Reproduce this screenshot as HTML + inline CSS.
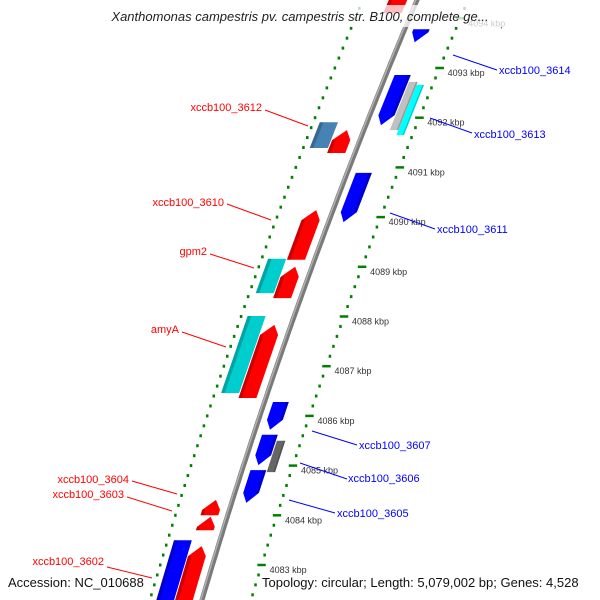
<!DOCTYPE html>
<html><head><meta charset="utf-8"><style>
body{margin:0;background:#fff}
svg{display:block;font-family:"Liberation Sans","DejaVu Sans",sans-serif}
</style></head><body>
<svg id="map" width="600" height="600" viewBox="0 0 600 600" xmlns="http://www.w3.org/2000/svg">
<g id="rings"></g>
<g id="backbone"></g>
<g id="features"></g>
<g id="labels"></g>
<rect x="60" y="5" width="480" height="22" fill="#fff" fill-opacity="0.75"/>
<text x="300" y="21" text-anchor="middle" font-size="13" font-style="italic" fill="#222">Xanthomonas campestris pv. campestris str. B100, complete ge...</text>
<text x="8" y="587" font-size="13" fill="#111">Accession: NC_010688</text>
<text x="262" y="587" font-size="13" fill="#111">Topology: circular; Length: 5,079,002 bp; Genes: 4,528</text>
</svg>
<script>
// data arrays
const featStart = [4094.1,4093.52,4091.85,4091.75,4091.65,4091.39,4091.29,4089.9,4089.14,4088.47,4088.37,4086.46,4086.36,4085.72,4085.01,4084.87,4084.25,4084.0,4083.7,4081.5,4081.5];
const featEnd   = [4095.0,4093.78,4092.86,4092.72,4092.66,4091.91,4091.75,4090.89,4090.14,4089.16,4089.0,4088.01,4087.83,4086.28,4085.62,4085.5,4084.91,4084.31,4083.97,4083.5,4083.38];
const featStrand= [1,-1,-1,-2,-3,2,1,-1,1,2,1,2,1,-1,-1,-2,-1,1,1,2,1];
const featColor = ['#ff0000','#0000ff','#0000ff','#c0c0c0','#00ffff','#4682b4','#ff0000','#0000ff','#ff0000','#00cdcd','#ff0000','#00cdcd','#ff0000','#0000ff','#0000ff','#666666','#0000ff','#ff0000','#ff0000','#0000ff','#ff0000'];
const featArrow = [1,1,1,0,0,0,1,1,1,0,1,0,1,1,1,0,1,1,1,0,1];
const tickKbp = [4094,4093,4092,4091,4090,4089,4088,4087,4086,4085,4084,4083];
const labelText = ['xccb100_3612','xccb100_3610','gpm2','amyA','xccb100_3604','xccb100_3603','xccb100_3602','xccb100_3614','xccb100_3613','xccb100_3611','xccb100_3607','xccb100_3606','xccb100_3605'];
const labelX = [262,224,207,179,129,124,104,499,474,437,359,348,337];
const labelY = [111,206,255,333,483,498,565,74,138,233,449,482,517];
const labelLine = [[265,110,308,126],[227,204,271,220],[210,254,254,268],[182,332,226,347],[132,481,177,494],[127,497,172,511],[107,567,152,578],[453,55,497,70],[430,118,472,133],[390,213,435,229],[312,431,357,445],[300,463,347,479],[289,500,335,513]];

const NS='http://www.w3.org/2000/svg';
function el(t,a,p){const e=document.createElementNS(NS,t);for(const k in a)e.setAttribute(k,a[k]);p.appendChild(e);return e;}
function yOf(p){return 68+(4093-p)*49.7;}
function bx(y){return 417-0.4217*y+0.0001056*y*y;}
function pt(p,r){
  const T=yOf(p);let y0=T,d=0,n=1;
  for(let i=0;i<5;i++){d=-0.4217+2*0.0001056*y0;n=Math.sqrt(1+d*d);y0=T+d*r/n;}
  return [bx(y0)+r/n, y0-d*r/n];
}
function P(a){return a.map(q=>q[0].toFixed(1)+','+q[1].toFixed(1)).join(' ');}

// backbone
const bb=document.getElementById('backbone');
let pts=[],pts2=[];for(let p=4095.5;p>=4081;p-=0.1){pts.push(pt(p,0));pts2.push(pt(p,-1.2));}
let bl=el('polyline',{points:P(pts),fill:'none',stroke:'#7a7a7a','stroke-width':5},bb);


let bh=el('polyline',{points:P(pts2),fill:'none',stroke:'#b0b0b0','stroke-width':1.5},bb);



// rings
const rg=document.getElementById('rings');
[[-50,0.5],[47,0]].forEach(([r,off])=>{
  for(let k=0;k<=80;k++){
    const p=4081+k*0.2;
    const major=Math.abs((p+off)-Math.round(p+off))<0.01;
    const a=pt(p,r-(major?4:1.2)),b=pt(p,r+(major?4:1.2));
    const ln=el('line',{x1:a[0],y1:a[1],x2:b[0],y2:b[1],stroke:'#008000','stroke-width':major?2.5:3},rg);
    
    
  }
});
tickKbp.forEach(k=>{
  const q=pt(k,47);
  const t=el('text',{x:q[0]+8,y:q[1]+8,'font-size':9,fill:'#333'},rg);
  t.textContent=k+' kbp';
  
  
});

// features
const fg=document.getElementById('features');
const lanes={'1':[-9,-26],'2':[-27,-44],'-1':[8,23],'-2':[24,32],'-3':[32,39]};
featStart.forEach((s,i)=>{
  const e=featEnd[i],st=featStrand[i],[r1,r2]=lanes[st];
  const fwd=st>0;const h=featArrow[i]?0.2:0;
  let poly;
  if(!h)poly=[pt(s,r1),pt(e,r1),pt(e,r2),pt(s,r2)];
  else if(fwd){const b=e-h;poly=[pt(s,r1),pt(b,r1),pt(e,(r1*0.6+r2*0.4)),pt(b,r2),pt(s,r2)];}
  else{const b=s+h;poly=[pt(e,r1),pt(b,r1),pt(s,(r1*0.6+r2*0.4)),pt(b,r2),pt(e,r2)];}
  const g=el('polygon',{points:P(poly),fill:featColor[i]},fg);
  
  
  const rs=r1+(r2-r1)*0.8;
  const s2=(!fwd&&h)?s+h:s, e2=(fwd&&h)?e-h:e;
  const sh=el('polygon',{points:P([pt(s2,rs),pt(e2,rs),pt(e2,r2),pt(s2,r2)]),fill:'#000','fill-opacity':0.2},fg);
  
  
});

// labels
const lg=document.getElementById('labels');
labelText.forEach((t,i)=>{
  const col=i<7?'#ff0000':'#0000ff';
  const L=labelLine[i];
  const ln=el('line',{x1:L[0],y1:L[1],x2:L[2],y2:L[3],stroke:col,'stroke-width':1},lg);
  
  
  const tx=el('text',{x:labelX[i],y:labelY[i],'font-size':11,fill:col,'text-anchor':i<7?'end':'start'},lg);
  tx.textContent=t;
  
  
});
</script>
</body></html>
